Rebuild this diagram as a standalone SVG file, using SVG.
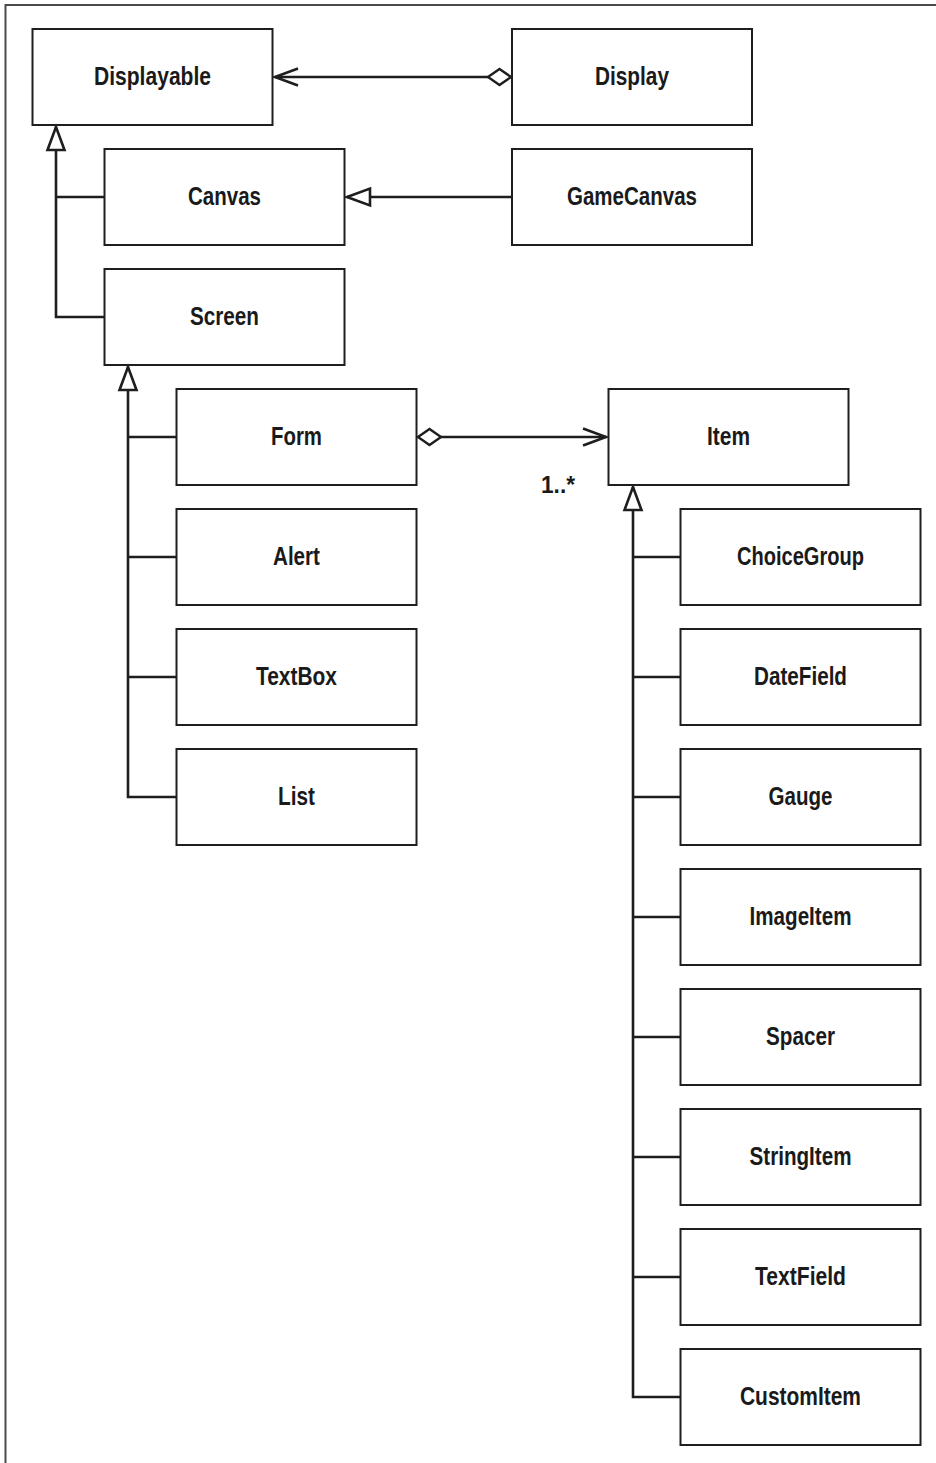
<svg xmlns="http://www.w3.org/2000/svg" width="936" height="1463" viewBox="0 0 936 1463">
  <style>
    .box rect { fill: #fff; stroke: #1e1e1e; stroke-width: 2; }
    .box text { font-family: "Liberation Sans", Arial, sans-serif; font-weight: bold; font-size: 26px; fill: #1a1a1a; text-anchor: middle; }
    .conn path { fill: none; stroke: #1e1e1e; stroke-width: 2.6; }
    .mult { font-family: "Liberation Sans", Arial, sans-serif; font-weight: bold; font-size: 24px; fill: #1a1a1a; }
    .frame { fill: none; stroke: #4a4a4a; stroke-width: 2; }
  </style>
  <defs>
    <!-- hollow triangle for generalization -->
    <marker id="tri" markerUnits="userSpaceOnUse" orient="auto" refX="0" refY="0" markerWidth="30" markerHeight="30" overflow="visible">
      <path d="M0,0 L-23,-8.5 L-23,8.5 Z" fill="#fff" stroke="#1e1e1e" stroke-width="2.6" stroke-linejoin="miter"/>
    </marker>
    <!-- open navigability arrow -->
    <marker id="open" markerUnits="userSpaceOnUse" orient="auto" refX="0" refY="0" markerWidth="30" markerHeight="30" overflow="visible">
      <path d="M-23,-8.5 L0,0 L-23,8.5" fill="none" stroke="#1e1e1e" stroke-width="2.6"/>
    </marker>
    <!-- hollow diamond for aggregation -->
    <marker id="diamond" markerUnits="userSpaceOnUse" orient="auto" refX="0" refY="0" markerWidth="30" markerHeight="30" overflow="visible">
      <path d="M0,0 L11.5,-8 L23,0 L11.5,8 Z" fill="#fff" stroke="#1e1e1e" stroke-width="2.4"/>
    </marker>
  </defs>

  <rect width="936" height="1463" fill="#fff"/>
  <path class="frame" d="M5.5,1463 V5 H936"/>

  <g id="connectors" class="conn">
    <!-- Display aggregates Displayable -->
    <path d="M511,77 H275" marker-start="url(#diamond)" marker-end="url(#open)"/>
    <!-- GameCanvas extends Canvas -->
    <path d="M512,197 H347" marker-end="url(#tri)"/>
    <!-- Canvas / Screen extend Displayable -->
    <path d="M104,197 H56"/>
    <path d="M104,317 H56 V127" marker-end="url(#tri)"/>
    <!-- Form / Alert / TextBox / List extend Screen -->
    <path d="M176,437 H128"/>
    <path d="M176,557 H128"/>
    <path d="M176,677 H128"/>
    <path d="M176,797 H128 V367" marker-end="url(#tri)"/>
    <!-- Form aggregates Items -->
    <path d="M418,437 H606" marker-start="url(#diamond)" marker-end="url(#open)"/>
    <!-- Item subclasses -->
    <path d="M680,557 H633"/>
    <path d="M680,677 H633"/>
    <path d="M680,797 H633"/>
    <path d="M680,917 H633"/>
    <path d="M680,1037 H633"/>
    <path d="M680,1157 H633"/>
    <path d="M680,1277 H633"/>
    <path d="M680,1397 H633 V487" marker-end="url(#tri)"/>
  </g>
  <text class="mult" x="541" y="493" textLength="34" lengthAdjust="spacingAndGlyphs">1..*</text>

  <g id="displayable" class="box"><rect x="32.5" y="29" width="240" height="96"/><text x="152.5" y="85" textLength="117" lengthAdjust="spacingAndGlyphs">Displayable</text></g>
  <g id="display" class="box"><rect x="512" y="29" width="240" height="96"/><text x="632" y="85" textLength="74" lengthAdjust="spacingAndGlyphs">Display</text></g>
  <g id="canvas" class="box"><rect x="104.5" y="149" width="240" height="96"/><text x="224.5" y="205" textLength="73" lengthAdjust="spacingAndGlyphs">Canvas</text></g>
  <g id="gamecanvas" class="box"><rect x="512" y="149" width="240" height="96"/><text x="632" y="205" textLength="130" lengthAdjust="spacingAndGlyphs">GameCanvas</text></g>
  <g id="screen" class="box"><rect x="104.5" y="269" width="240" height="96"/><text x="224.5" y="325" textLength="69" lengthAdjust="spacingAndGlyphs">Screen</text></g>

  <g id="form" class="box"><rect x="176.5" y="389" width="240" height="96"/><text x="296.5" y="445" textLength="51" lengthAdjust="spacingAndGlyphs">Form</text></g>
  <g id="alert" class="box"><rect x="176.5" y="509" width="240" height="96"/><text x="296.5" y="565" textLength="47" lengthAdjust="spacingAndGlyphs">Alert</text></g>
  <g id="textbox" class="box"><rect x="176.5" y="629" width="240" height="96"/><text x="296.5" y="685" textLength="81" lengthAdjust="spacingAndGlyphs">TextBox</text></g>
  <g id="list" class="box"><rect x="176.5" y="749" width="240" height="96"/><text x="296.5" y="805" textLength="37" lengthAdjust="spacingAndGlyphs">List</text></g>

  <g id="item" class="box"><rect x="608.5" y="389" width="240" height="96"/><text x="728.5" y="445" textLength="43" lengthAdjust="spacingAndGlyphs">Item</text></g>
  <g id="choicegroup" class="box"><rect x="680.5" y="509" width="240" height="96"/><text x="800.5" y="565" textLength="127" lengthAdjust="spacingAndGlyphs">ChoiceGroup</text></g>
  <g id="datefield" class="box"><rect x="680.5" y="629" width="240" height="96"/><text x="800.5" y="685" textLength="93" lengthAdjust="spacingAndGlyphs">DateField</text></g>
  <g id="gauge" class="box"><rect x="680.5" y="749" width="240" height="96"/><text x="800.5" y="805" textLength="64" lengthAdjust="spacingAndGlyphs">Gauge</text></g>
  <g id="imageitem" class="box"><rect x="680.5" y="869" width="240" height="96"/><text x="800.5" y="925" textLength="102" lengthAdjust="spacingAndGlyphs">ImageItem</text></g>
  <g id="spacer" class="box"><rect x="680.5" y="989" width="240" height="96"/><text x="800.5" y="1045" textLength="69" lengthAdjust="spacingAndGlyphs">Spacer</text></g>
  <g id="stringitem" class="box"><rect x="680.5" y="1109" width="240" height="96"/><text x="800.5" y="1165" textLength="102" lengthAdjust="spacingAndGlyphs">StringItem</text></g>
  <g id="textfield" class="box"><rect x="680.5" y="1229" width="240" height="96"/><text x="800.5" y="1285" textLength="91" lengthAdjust="spacingAndGlyphs">TextField</text></g>
  <g id="customitem" class="box"><rect x="680.5" y="1349" width="240" height="96"/><text x="800.5" y="1405" textLength="121" lengthAdjust="spacingAndGlyphs">CustomItem</text></g>
</svg>
